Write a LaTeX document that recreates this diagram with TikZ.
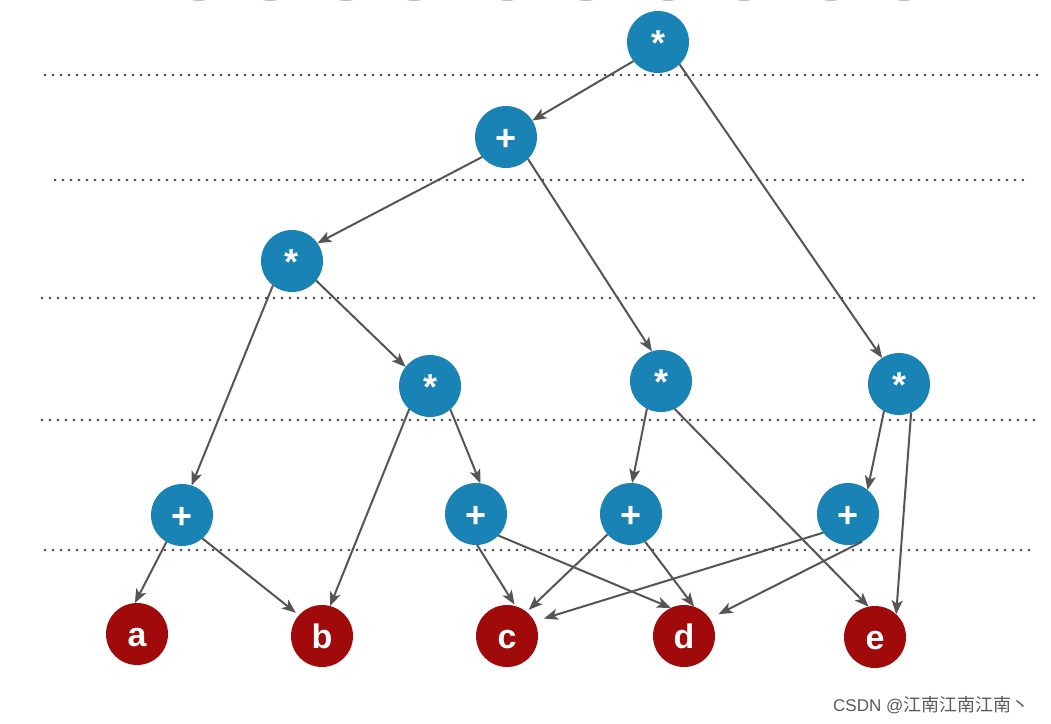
\documentclass[tikz,border=0pt]{standalone}
\usepackage{fontspec}
\newfontfamily\hv{Liberation Sans}
\newfontfamily\cjk{Noto Sans CJK SC}
\usetikzlibrary{arrows.meta}
\definecolor{nodeblue}{HTML}{1883B4}
\definecolor{leafred}{HTML}{A00A0A}
\definecolor{edgegray}{HTML}{555555}
\definecolor{dotgray}{HTML}{404040}
\definecolor{topgray}{HTML}{BDBDBD}
\definecolor{markgray}{HTML}{5A5A5A}
\begin{document}
\begin{tikzpicture}[x=1pt,y=-1pt,
  op/.style={circle,fill=nodeblue,minimum size=62pt,inner sep=0pt,outer sep=0pt,text=white,
    text height=26pt,text depth=0pt,font=\hv\bfseries\fontsize{36}{36}\selectfont},
  leaf/.style={circle,fill=leafred,minimum size=62pt,inner sep=0pt,outer sep=0pt,text=white,
    text height=24.5pt,text depth=0pt,font=\hv\bfseries\fontsize{34}{34}\selectfont},
  edge/.style={draw=edgegray,line width=2pt,-{Stealth[length=14pt,width=11pt,inset=3.5pt]}},
  levelline/.style={draw=dotgray,line width=2.8pt,dash pattern=on 0pt off 8pt,line cap=round},
]
\useasboundingbox (0,0) rectangle (1051,723);
\fill[white] (0,0) rectangle (1051,723);

% partial circles cut by the top edge
\foreach \x in {199,270,346,414,507,586,668,744,831,904}
  \fill[topgray] (\x,-27) circle (28);

% dotted level lines
\coordinate (l1a) at (45,75);  \coordinate (l1b) at (1037,75);
\coordinate (l2a) at (55,180); \coordinate (l2b) at (1030,180);
\coordinate (l3a) at (42,298); \coordinate (l3b) at (1035,298);
\coordinate (l4a) at (42,420); \coordinate (l4b) at (1035,420);
\coordinate (l5a) at (45,550); \coordinate (l5b) at (1035,550);
\draw[levelline] (l1a) -- (l1b);
\draw[levelline] (l2a) -- (l2b);
\draw[levelline] (l3a) -- (l3b);
\draw[levelline] (l4a) -- (l4b);
\draw[levelline] (l5a) -- (l5b);

% nodes
\node[op] (r)  at (658,42)  {*};
\node[op] (p1) at (506,137) {+};
\node[op] (m1) at (292,261) {*};
\node[op] (m2) at (430,386) {*};
\node[op] (m3) at (661,381) {*};
\node[op] (m4) at (899,384) {*};
\node[op] (q1) at (182,515) {+};
\node[op] (q2) at (476,514) {+};
\node[op] (q3) at (631,514) {+};
\node[op] (q4) at (848,514) {+};
\node[leaf] (a) at (137,634) {a};
\node[leaf] (b) at (322,636) {b};
\node[leaf] (c) at (507,636) {c};
\node[leaf] (d) at (684,636) {d};
\node[leaf] (e) at (875,637) {e};

% edges
\draw[edge] (r.218) -- (p1.32);
\draw[edge] (r.-46) -- (m4.123);
\draw[edge] (p1.220) -- (m1.35);
\draw[edge] (p1.-45) -- (m3.107);
\draw[edge] (m1.232) -- (q1.72);
\draw[edge] (m1.-39) -- (m2.142);
\draw[edge] (m2.228) -- (b.75);
\draw[edge] (m2.-49) -- (q2.82);
\draw[edge] (m3.243) -- (q3.88);
\draw[edge] (m3.-64) -- (e.102);
\draw[edge] (m4.241) -- (q4.51);
\draw[edge] (m4.-67) -- (e.47);
\draw[edge] (q1.240) -- (a.94);
\draw[edge,shorten >=4pt] (q1.-49) -- (b.138);
\draw[edge,shorten >=2pt] (q2.-88) -- (c.74);
\draw[edge] (q2.-44) -- (d.115);
\draw[edge,shorten >=3pt] (q3.221) -- (c.51);
\draw[edge] (q3.-63) -- (d.71);
\draw[edge,shorten >=10pt] (q4.217) -- (c.28);
\draw[edge,shorten >=10pt] (q4.-63) -- (d.34);

% watermark
\node[anchor=west,inner sep=0pt,text=markgray,font=\fontsize{17}{17}\selectfont] (wm) at (833,705)
  {{\hv CSDN @}{\cjk\fontsize{18}{18}\selectfont 江南江南江南丶}};
\end{tikzpicture}
\end{document}
